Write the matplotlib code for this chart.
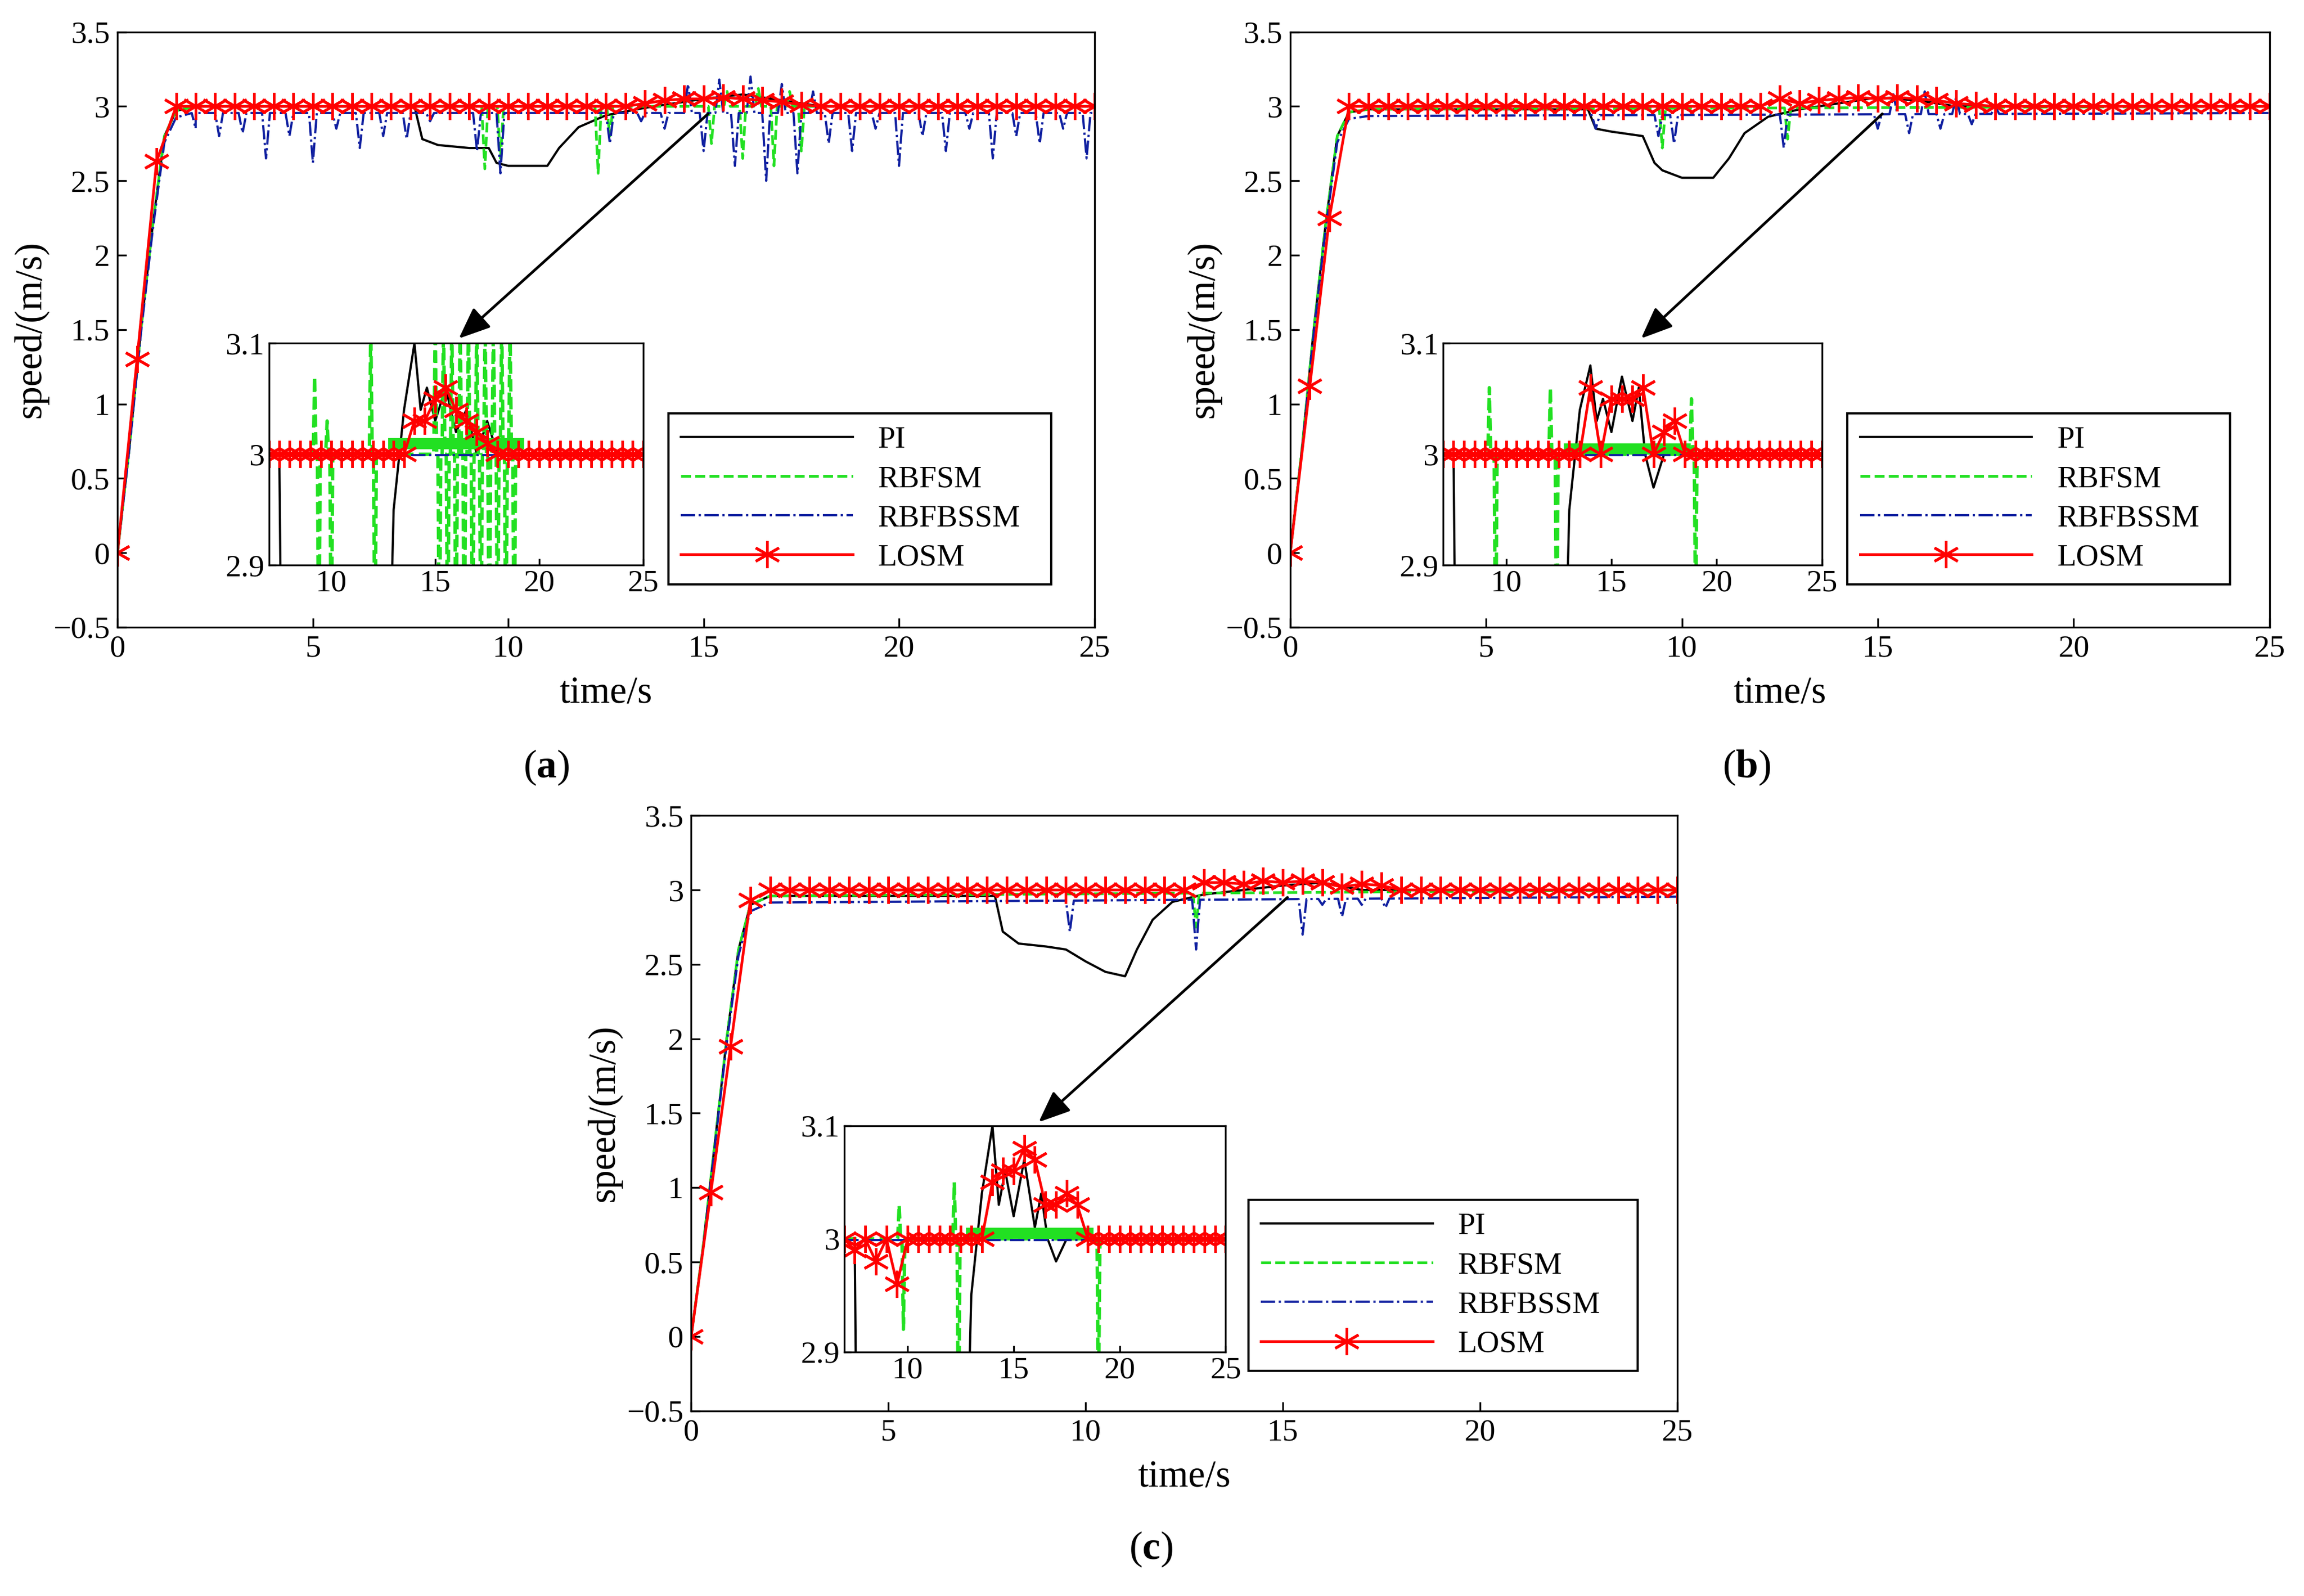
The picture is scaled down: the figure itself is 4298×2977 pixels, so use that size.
import numpy as np
import matplotlib
matplotlib.use('Agg')
import matplotlib.pyplot as plt

plt.rcParams['font.family'] = ['Liberation Serif', 'DejaVu Serif']
plt.rcParams['mathtext.fontset'] = 'custom'
plt.rcParams['mathtext.rm'] = 'Liberation Serif'
plt.rcParams['mathtext.bf'] = 'Liberation Serif:bold'
plt.rcParams['axes.unicode_minus'] = True

GREEN = '#22E022'
BLUE = '#1020A0'
AST = (6, 2, 0)

# ---------------- data ----------------
t_los = list(np.arange(0, 25.01, 0.5))
# panel a
a_pi_t = [0,0.3,0.6,0.9,1.2,1.5,2,7.6,7.8,8.2,9,9.5,9.7,10,11,11.3,11.8,12.5,13.5,14.5,15,16,17,18,25]
a_pi_v = [0,0.7,1.5,2.2,2.8,2.97,3.0,3.0,2.78,2.74,2.72,2.72,2.62,2.6,2.6,2.72,2.86,2.94,2.99,3.03,3.05,3.08,3.04,3.0,3.0]
a_sm_spk = [(9.4,2.58),(9.8,2.65),(12.3,2.55),(12.6,2.8),(15.2,2.75),(15.6,3.1),(16.0,2.65),(16.4,3.12),(16.8,2.6),(17.2,3.1),(17.5,2.7)]
a_bs_spk = [(2.0,2.85),(2.6,2.8),(3.2,2.82),(3.8,2.65),(4.4,2.8),(5.0,2.62),(5.6,2.85),(6.2,2.72),(6.8,2.8),(7.4,2.78),(8.0,2.9),(9.2,2.7),(9.8,2.55),
            (12.6,2.75),(13.4,2.9),(14.0,2.85),(14.6,3.15),(15.0,2.7),(15.4,3.18),(15.8,2.6),(16.2,3.2),(16.6,2.5),(17.0,3.15),(17.4,2.55),(17.8,3.1),
            (18.2,2.75),(18.8,2.7),(19.4,2.85),(20.0,2.6),(20.6,2.8),(21.2,2.7),(21.8,2.85),(22.4,2.65),(23.0,2.8),(23.6,2.75),(24.2,2.85),(24.8,2.65)]
a_los_v = [0,1.3,2.63] + [3.0]*24 + [3.02,3.04,3.05,3.05,3.06,3.05,3.04,3.03,3.01] + [3.0]*15
# panel b
b_pi_t = [0,0.3,0.6,0.9,1.2,1.5,2,7.6,7.8,8.2,9,9.3,9.5,10,10.8,11.2,11.6,12.2,13,14,15,16,17,25]
b_pi_v = [0,0.7,1.5,2.2,2.8,2.96,2.98,2.98,2.85,2.83,2.8,2.62,2.57,2.52,2.52,2.65,2.82,2.93,2.98,3.02,3.06,3.04,3.0,3.0]
b_sm_spk = [(9.5,2.72),(12.7,2.78)]
b_bs_spk = [(7.8,2.85),(9.4,2.8),(9.8,2.75),(12.6,2.72),(15.0,2.85),(15.4,3.08),(15.8,2.82),(16.2,3.1),(16.6,2.85),(17.0,3.06),(17.4,2.88),(18.0,3.0)]
b_los_v = [0,1.12,2.25] + [3.0]*22 + [3.05,3.02,3.04,3.05,3.06,3.05,3.06,3.05,3.04,3.02,3.01] + [3.0]*15
# panel c
c_pi_t = [0,0.3,0.6,0.9,1.2,1.5,2,7.7,7.9,8.3,9,9.5,10,10.5,11,11.3,11.7,12.2,13,14,15,16,17,25]
c_pi_v = [0,0.6,1.3,2.0,2.6,2.9,2.96,2.96,2.72,2.64,2.62,2.6,2.52,2.45,2.42,2.6,2.8,2.92,2.97,3.0,3.03,3.05,3.0,3.0]
c_sm_spk = [(12.8,2.75)]
c_bs_spk = [(9.6,2.72),(12.8,2.6),(15.5,2.7),(16.0,2.9),(16.5,2.82),(17.0,2.9),(17.6,2.88)]
c_los_v = [0,0.97,1.95,2.93] + [3.0]*22 + [3.05,3.05,3.04,3.06,3.05,3.06,3.05,3.02,3.04,3.03] + [3.0]*15

# insets
ti_los = list(np.arange(7, 25.01, 0.5))
a_in_pi_t = [7,7.5,7.6,12.8,13,13.5,14,14.3,14.6,15,15.5,16,16.5,17,17.5,18,18.5,25]
a_in_pi_v = [3.0,3.0,2.8,2.8,2.95,3.04,3.1,3.04,3.06,3.03,3.06,3.02,3.04,3.0,3.03,3.0,3.0,3.0]
a_in_sm_spk = [(9.2,3.07),(9.4,2.8),(9.8,3.03),(10.0,2.8),(11.9,3.12),(12.1,2.8)] + \
    [(15.0+0.2*i, 3.12 if i % 2 == 0 else 2.8) for i in range(20)]
a_in_los_v = [3.0]*14 + [3.03,3.03,3.05,3.06,3.04,3.03,3.02,3.01] + [3.0]*15
b_in_pi_t = [7,7.5,7.6,12.8,13,13.5,14,14.3,14.6,15,15.5,16,16.3,16.6,17,17.5,18,18.5,25]
b_in_pi_v = [3.0,3.0,2.8,2.8,2.95,3.04,3.08,3.03,3.05,3.02,3.07,3.03,3.06,3.0,2.97,3.0,3.0,3.0,3.0]
b_in_sm_spk = [(9.2,3.06),(9.5,2.8),(12.1,3.06),(12.4,2.8),(18.8,3.05),(19.0,2.85)]
b_in_los_v = [3.0]*14 + [3.06,3.0,3.05,3.05,3.05,3.06,3.0,3.02,3.03,3.0,3.0] + [3.0]*12
c_in_pi_t = [7,7.5,7.6,12.8,13,13.5,14,14.3,14.6,15,15.5,16,16.3,16.6,17,17.5,18,25]
c_in_pi_v = [3.0,3.0,2.8,2.8,2.95,3.04,3.1,3.03,3.06,3.02,3.07,3.01,3.04,3.0,2.98,3.0,3.0,3.0]
c_in_sm_spk = [(9.6,3.03),(9.8,2.92),(12.2,3.05),(12.4,2.8),(18.8,3.0),(19.0,2.85)]
c_in_los_v = [3.0,2.99,3.0,2.98,3.0,2.96,3.0,3.0,3.0,3.0,3.0,3.0,3.0,3.0,3.05,3.06,3.06,3.08,3.07,3.03,3.03,3.04,3.03] + [3.0]*14

def spiky(base_t, base_v, spikes, w=0.08):
    pts = list(zip(base_t, base_v))
    for t, v in spikes:
        b = np.interp(t, base_t, base_v)
        pts += [(t - w, b), (t, v), (t + w, b)]
    pts.sort()
    return [p[0] for p in pts], [p[1] for p in pts]

W, H = 4298, 2977
fig = plt.figure(figsize=(W/300, H/300), dpi=300)

def panel(rect, pi_t, pi_v, sm_spk, bs_spk, los_v, rise,
          in_pi_t, in_pi_v, in_sm_spk, in_los_v, in_band, inrect, legrect, head, label, labpos):
    ax = fig.add_axes(rect)
    ax.plot(pi_t, pi_v, color='black', lw=1.0, label='PI')
    st, sv = spiky([0] + rise[0] + [25], [0] + rise[1] + [3.0], sm_spk)
    ax.plot(st, sv, color=GREEN, lw=1.2, ls='--', label='RBFSM')
    bt, bv = spiky([0] + rise[0] + [25], [0] + [v*0.985 for v in rise[1]] + [2.955], bs_spk, w=0.1)
    ax.plot(bt, bv, color=BLUE, lw=1.0, ls='-.', label='RBFBSSM')
    ax.plot(t_los, los_v, color='red', lw=1.2, marker=AST, ms=12, mew=1.2, label='LOSM')
    ax.set_xlim(0, 25); ax.set_ylim(-0.5, 3.5)
    ax.set_xticks([0,5,10,15,20,25]); ax.set_yticks(np.arange(-0.5, 3.51, 0.5))
    ax.set_yticklabels(['\u22120.5','0','0.5','1','1.5','2','2.5','3','3.5'])
    ax.tick_params(direction='in', labelsize=14, length=4)
    ax.set_xlabel('time/s', fontsize=17, labelpad=6)
    ax.set_ylabel('speed/(m/s)', fontsize=17, labelpad=2)
    ax.legend(loc='lower left', bbox_to_anchor=legrect, mode='expand', fontsize=14,
              fancybox=False, edgecolor='black', framealpha=1, handlelength=5.5, borderaxespad=0, labelspacing=0.35)
    ax.annotate('', xy=head, xycoords='axes fraction', xytext=(15.2, 2.97), textcoords='data',
                arrowprops=dict(arrowstyle='-|>,head_length=1.2,head_width=0.5', color='black', lw=1.2))
    ins = ax.inset_axes(inrect)
    ins.plot(in_pi_t, in_pi_v, color='black', lw=1.0)
    it, iv = spiky([7, 25], [3.0, 3.0], in_sm_spk, w=0.07)
    ins.plot(it, iv, color=GREEN, lw=1.5, ls='--')
    ins.plot(in_band[0], in_band[1], color=GREEN, lw=5)
    ins.plot([7, 25], [2.999, 2.999], color=BLUE, lw=1.0, ls='-.')
    ins.plot(ti_los, in_los_v, color='red', lw=1.2, marker=AST, ms=12, mew=1.2)
    ins.set_xlim(7, 25); ins.set_ylim(2.9, 3.1)
    ins.set_xticks([10,15,20,25]); ins.set_yticks([2.9,3.0,3.1])
    ins.set_yticklabels(['2.9','3','3.1'])
    ins.tick_params(direction='in', labelsize=14, length=3, pad=2)
    fig.text(labpos[0], labpos[1], label, fontsize=18, ha='center', va='center')

panel([0.051,0.607,0.424,0.373], a_pi_t, a_pi_v, a_sm_spk, a_bs_spk, a_los_v, ([0.3,0.6,0.9,1.2,1.5,2],[0.7,1.5,2.2,2.8,2.97,3.0]),
      a_in_pi_t, a_in_pi_v, a_in_sm_spk, a_in_los_v, ([13,19],[3.01,3.01]),
      [0.155,0.104,0.383,0.373], (0.564,0.072,0.392,0.308), (0.346,0.48), r'($\mathbf{a}$)', (0.237,0.519))
panel([0.560,0.607,0.425,0.373], b_pi_t, b_pi_v, b_sm_spk, b_bs_spk, b_los_v, ([0.3,0.6,0.9,1.2,1.5,2],[0.7,1.5,2.2,2.8,2.96,2.98]),
      b_in_pi_t, b_in_pi_v, b_in_sm_spk, b_in_los_v, ([13,18.5],[3.005,3.005]),
      [0.156,0.104,0.387,0.373], (0.569,0.072,0.391,0.311), (0.355,0.48), r'($\mathbf{b}$)', (0.758,0.519))
panel([0.300,0.116,0.428,0.373], c_pi_t, c_pi_v, c_sm_spk, c_bs_spk, c_los_v, ([0.3,0.6,0.9,1.2,1.5,2],[0.6,1.3,2.0,2.6,2.9,2.96]),
      c_in_pi_t, c_in_pi_v, c_in_sm_spk, c_in_los_v, ([13,18.5],[3.005,3.005]),
      [0.155,0.099,0.387,0.38], (0.565,0.067,0.395,0.308), (0.349,0.48), r'($\mathbf{c}$)', (0.4995,0.029))

fig.savefig('out.png', dpi=300)
